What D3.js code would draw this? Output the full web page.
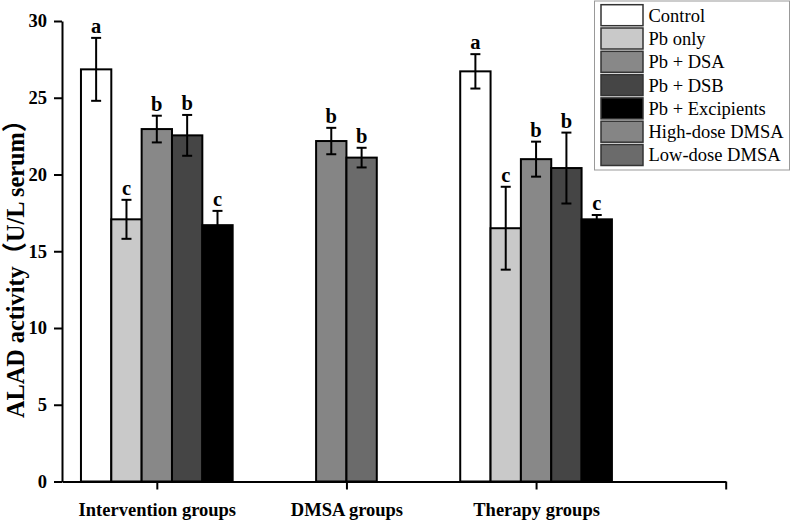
<!DOCTYPE html>
<html><head><meta charset="utf-8">
<script src="https://cdn.jsdelivr.net/npm/d3@7"></script>
<style>html,body{margin:0;padding:0;background:#fff;}svg{display:block;}</style>
</head><body>
<svg id="chart" width="792" height="522"></svg>
<script>
const groups = ["Intervention groups", "DMSA groups", "Therapy groups"];
const seriesNames = ["Control", "Pb only", "Pb + DSA", "Pb + DSB", "Pb + Excipients", "High-dose DMSA", "Low-dose DMSA"];
const seriesColors = ["#ffffff", "#c9c9c9", "#888888", "#454545", "#000000", "#858585", "#6b6b6b"];

const interventionSeries = ["Control", "Pb only", "Pb + DSA", "Pb + DSB", "Pb + Excipients"];
const interventionMeans = [26.85, 17.08, 22.96, 22.55, 16.7];
const interventionErr = [2.05, 1.27, 0.87, 1.33, 0.93];
const interventionLetters = ["a", "c", "b", "b", "c"];

const dmsaSeries = ["High-dose DMSA", "Low-dose DMSA"];
const dmsaMeans = [22.18, 21.1];
const dmsaErr = [0.86, 0.64];
const dmsaLetters = ["b", "b"];

const therapySeries = ["Control", "Pb only", "Pb + DSA", "Pb + DSB", "Pb + Excipients"];
const therapyMeans = [26.72, 16.5, 21.0, 20.42, 17.08];
const therapyErr = [1.12, 2.7, 1.14, 2.31, 0.28];
const therapyLetters = ["a", "c", "b", "b", "c"];

const yTicks = [0, 5, 10, 15, 20, 25, 30];
const yTitle = "ALAD activity（U/L serum）";

const groupData = [
  {name: groups[0], series: interventionSeries, means: interventionMeans, err: interventionErr, letters: interventionLetters},
  {name: groups[1], series: dmsaSeries, means: dmsaMeans, err: dmsaErr, letters: dmsaLetters},
  {name: groups[2], series: therapySeries, means: therapyMeans, err: therapyErr, letters: therapyLetters}
];

const svg = d3.select("#chart");
const serif = "'Liberation Serif','Times New Roman',serif";
const color = d3.scaleOrdinal().domain(seriesNames).range(seriesColors);

const x = d3.scaleLinear().domain([-0.5, 3]).range([62, 725.7]);
const y = d3.scaleLinear().domain([0, 30]).range([481.5, 21]);
const step = x(1) - x(0);
const barW = step * 0.16;

// bars
groupData.forEach((g, gi) => {
  const n = g.series.length;
  const inner = d3.scaleBand().domain(g.series).range([x(gi) - n * barW / 2, x(gi) + n * barW / 2]);
  const items = g.series.map((s, i) => ({s, m: g.means[i], e: g.err[i], l: g.letters[i]}));
  const gg = svg.append("g");
  gg.selectAll("rect").data(items).join("rect")
    .attr("x", d => inner(d.s)).attr("width", inner.bandwidth())
    .attr("y", d => y(d.m)).attr("height", d => y(0) - y(d.m))
    .attr("fill", d => color(d.s)).attr("stroke", "#000").attr("stroke-width", 2);
  const eb = gg.selectAll("g.eb").data(items).join("g").attr("class", "eb")
    .attr("stroke", "#000").attr("stroke-width", 2);
  const cx = d => inner(d.s) + inner.bandwidth() / 2;
  eb.append("line").attr("x1", cx).attr("x2", cx).attr("y1", d => y(d.m - d.e)).attr("y2", d => y(d.m + d.e));
  eb.append("line").attr("x1", d => cx(d) - 5).attr("x2", d => cx(d) + 5).attr("y1", d => y(d.m + d.e)).attr("y2", d => y(d.m + d.e));
  eb.append("line").attr("x1", d => cx(d) - 5).attr("x2", d => cx(d) + 5).attr("y1", d => y(d.m - d.e)).attr("y2", d => y(d.m - d.e));
  gg.selectAll("text.let").data(items).join("text").attr("class", "let")
    .attr("x", cx).attr("y", d => y(d.m + d.e) - 5)
    .attr("text-anchor", "middle").attr("font-family", serif).attr("font-weight", "bold")
    .attr("font-size", 20.5).text(d => d.l);
});

// y axis
const yAxis = d3.axisLeft(y).tickValues(yTicks).tickSize(8).tickPadding(7).tickSizeOuter(0);
const ya = svg.append("g").attr("transform", "translate(62,0)").call(yAxis);
ya.select(".domain").attr("stroke-width", 2);
ya.selectAll(".tick line").attr("stroke-width", 2);
ya.selectAll("text").attr("font-family", serif).attr("font-weight", "bold").attr("font-size", 18.5).attr("fill", "#000");

// x axis
const xAxis = d3.axisBottom(x).tickValues([0, 1, 2, 3]).tickFormat(i => groups[i] || "").tickSize(8).tickPadding(13).tickSizeOuter(0);
const xa = svg.append("g").attr("transform", "translate(0,481.5)").call(xAxis);
xa.select(".domain").attr("stroke-width", 2);
xa.selectAll(".tick line").attr("stroke-width", 2);
xa.selectAll("text").attr("font-family", serif).attr("font-weight", "bold").attr("font-size", 18.5).attr("fill", "#000");

// y title
svg.append("text").attr("transform", "translate(24,263) rotate(-90)")
  .attr("text-anchor", "middle").attr("font-family", serif + ",'Noto Sans CJK SC'")
  .attr("font-weight", "bold").attr("font-size", 25)
  .attr("textLength", 310).attr("lengthAdjust", "spacingAndGlyphs").text(yTitle);

// legend
const lg = svg.append("g");
lg.append("rect").attr("x", 594.5).attr("y", 1).attr("width", 195).attr("height", 169)
  .attr("fill", "#fff").attr("stroke", "#999").attr("stroke-width", 1);
const li = lg.selectAll("g.li").data(seriesNames).join("g").attr("class", "li")
  .attr("transform", (d, i) => `translate(601,${4.7 + i * 23.3})`);
li.append("rect").attr("width", 42).attr("height", 21).attr("fill", d => color(d))
  .attr("stroke", "#333").attr("stroke-width", 1.5);
li.append("text").attr("x", 47.5).attr("y", 10.5).attr("dy", "0.35em")
  .attr("font-family", serif).attr("font-size", 18.5).text(d => d);
</script>
</body></html>
